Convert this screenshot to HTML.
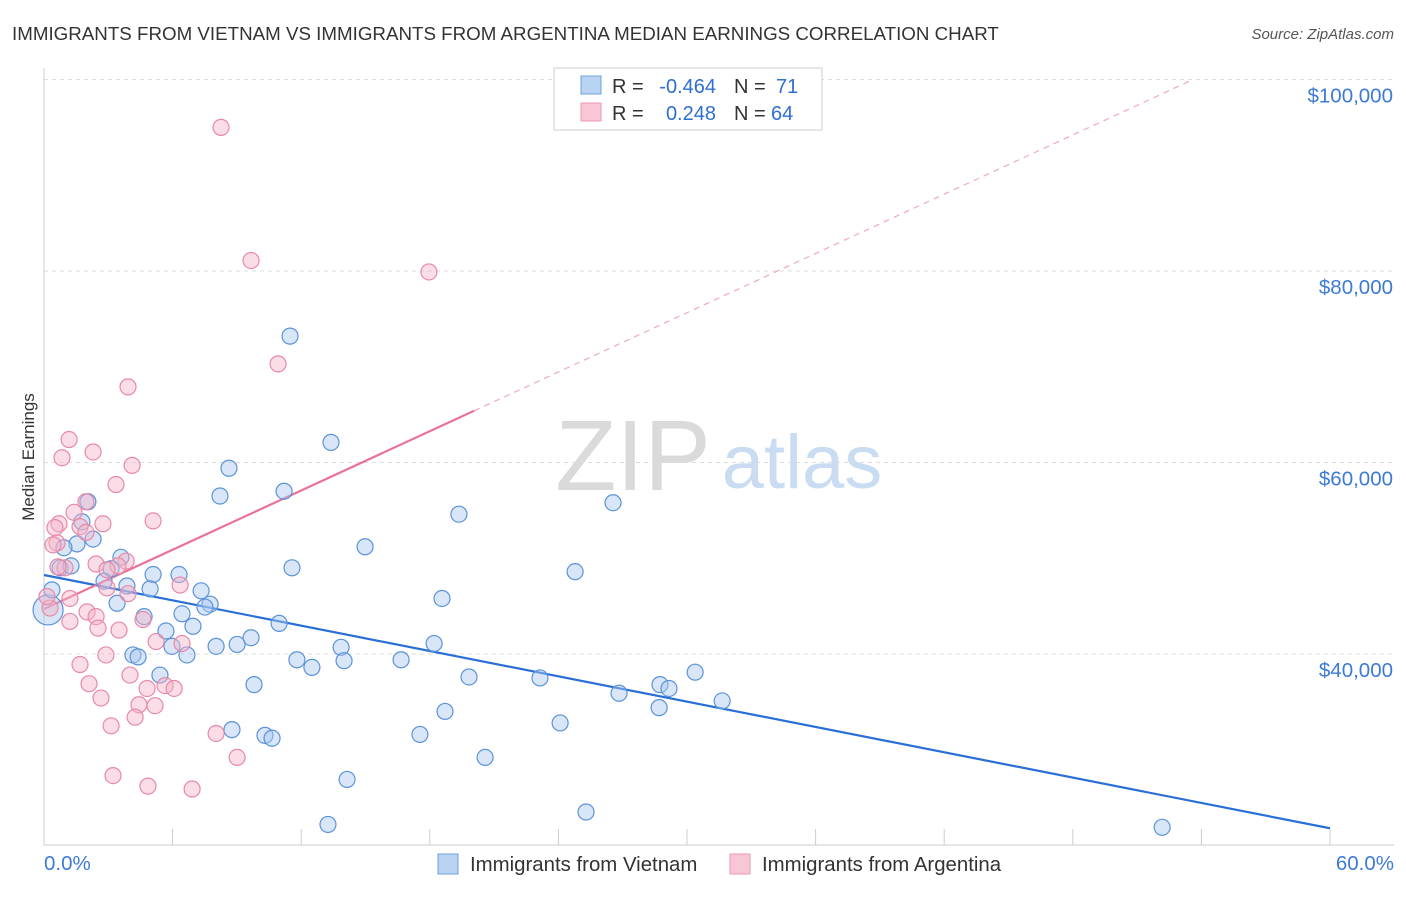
<!DOCTYPE html>
<html><head><meta charset="utf-8"><style>
body{margin:0;background:#fff;font-family:"Liberation Sans",sans-serif;}
svg text{font-family:"Liberation Sans",sans-serif;}
</style></head><body>
<svg id="chart" width="1406" height="892" xmlns="http://www.w3.org/2000/svg">
<text x="12" y="40" font-size="18.75" fill="#333">IMMIGRANTS FROM VIETNAM VS IMMIGRANTS FROM ARGENTINA MEDIAN EARNINGS CORRELATION CHART</text>
<text x="1394" y="39" font-size="15" fill="#555" text-anchor="end" font-style="italic">Source: ZipAtlas.com</text>
<text transform="translate(34,457) rotate(-90)" font-size="17" fill="#333" text-anchor="middle">Median Earnings</text>
<g>
<text x="633" y="490" font-size="100" fill="#dadada" text-anchor="middle" font-family="Liberation Serif">ZIP</text>
<text x="802" y="488" font-size="76" fill="#c9dcf2" text-anchor="middle">atlas</text>
</g>
<g id="grid"></g><g id="axes"></g><g id="lines"></g><g id="points"></g>
<g>
<rect x="554" y="68" width="268" height="62" fill="#fff" stroke="#ccc"/>
<rect x="581" y="76" width="20" height="18" fill="#b9d3f3" stroke="#6fa0de"/>
<rect x="581" y="103" width="20" height="18" fill="#f8c6d5" stroke="#ec9ab5"/>
<text x="612" y="93" font-size="20" fill="#333">R =</text>
<text x="716" y="93" font-size="20" fill="#2f6fd0" text-anchor="end">-0.464</text>
<text x="734" y="93" font-size="20" fill="#333">N =</text>
<text x="776" y="93" font-size="20" fill="#2f6fd0">71</text>
<text x="612" y="120" font-size="20" fill="#333">R =</text>
<text x="716" y="120" font-size="20" fill="#2f6fd0" text-anchor="end">0.248</text>
<text x="734" y="120" font-size="20" fill="#333">N =</text>
<text x="771" y="120" font-size="20" fill="#2f6fd0">64</text>
</g>
<g>
<rect x="438" y="854" width="20" height="20" fill="#b9d3f3" stroke="#6fa0de"/>
<text x="470" y="871" font-size="20.4" fill="#333">Immigrants from Vietnam</text>
<rect x="730" y="854" width="20" height="20" fill="#f8c6d5" stroke="#ec9ab5"/>
<text x="762" y="871" font-size="20.4" fill="#333">Immigrants from Argentina</text>
</g>
</svg>
<script>
const blueX=[11.48,13.39,8.63,8.21,11.2,2.05,19.36,26.55,1.77,14.98,2.29,1.54,0.93,3.59,11.57,24.78,0.75,1.26,3.13,5.09,6.3,2.8,3.87,4.95,7.33,18.57,3.41,7.75,7.51,6.44,4.67,10.97,6.95,5.69,9.66,9.01,8.03,5.97,18.2,13.86,6.67,4.15,4.39,11.8,14.0,12.5,16.66,19.83,23.14,5.41,30.38,28.74,29.16,26.83,9.8,31.64,28.7,18.71,24.08,8.77,17.54,10.31,10.64,20.58,14.14,25.29,13.25,52.17,0.19,0.37];
const blueY=[73.2,62.1,59.4,56.5,57.0,55.9,54.6,55.8,53.8,51.2,52.0,51.5,51.1,50.1,49.0,48.6,49.0,49.2,48.9,48.3,48.3,47.6,47.1,46.8,46.6,45.8,45.3,45.2,44.9,44.2,43.9,43.2,42.9,42.4,41.7,41.0,40.8,40.8,41.1,40.7,39.9,39.9,39.7,39.4,39.3,38.6,39.4,37.6,37.5,37.8,38.1,36.8,36.4,35.9,36.8,35.1,34.4,34.0,32.8,32.1,31.6,31.5,31.2,29.2,26.9,23.5,22.2,21.9,44.6,46.7];
const pinkX=[8.26,9.66,17.96,10.92,3.92,1.17,2.29,0.84,4.11,3.36,1.96,5.09,1.4,0.7,2.75,1.68,0.51,1.96,0.61,0.42,3.83,2.43,3.45,0.98,0.65,2.94,6.35,2.94,1.21,3.92,2.01,2.43,4.62,1.21,2.52,3.5,5.23,6.44,2.89,1.68,4.01,2.1,4.81,5.65,6.07,2.66,4.43,5.18,4.25,3.13,8.03,9.01,3.22,4.85,6.91,0.28,0.14];
const pinkY=[95.0,81.1,79.9,70.3,67.9,62.4,61.1,60.5,59.7,57.7,55.9,53.9,54.8,53.6,53.6,53.3,53.2,52.7,51.6,51.4,49.7,49.4,49.2,49.0,49.1,48.8,47.2,46.9,45.8,46.3,44.4,43.9,43.6,43.4,42.7,42.5,41.3,41.1,39.9,38.9,37.8,36.9,36.4,36.7,36.4,35.4,34.7,34.6,33.4,32.5,31.7,29.2,27.3,26.2,25.9,44.8,46.0];
const blueTrend=[48.25,21.8];      // y at x=0, x=60
const pinkTrend=[44.7,65.4,20.07]; // y at 0, y at solid end, solid end x
const yTicks=[40,60,80,100];
const yTickLabels=["$40,000","$60,000","$80,000","$100,000"];
const xTicks=[0,6,12,18,24,30,36,42,48,54,60];

const X0=44,X1=1330;
const sx=v=>X0+(v/60)*(X1-X0);
const sy=v=>654-(v-40)*191.5/20;
const NS="http://www.w3.org/2000/svg";
function mk(tag,attrs,parent){const e=document.createElementNS(NS,tag);for(const k in attrs)e.setAttribute(k,attrs[k]);parent.appendChild(e);return e;}
const grid=document.getElementById('grid'),axes=document.getElementById('axes'),lines=document.getElementById('lines'),pts=document.getElementById('points');
yTicks.forEach((t,i)=>{
  const l=mk('line',{x1:X0,x2:1394,y1:sy(t),y2:sy(t),stroke:'#ddd','stroke-dasharray':'4,4'},grid);
  
  
  const tx=mk('text',{x:1393,y:sy(t)+23,'font-size':20.5,fill:'#3d7bd6','text-anchor':'end'},axes);
  tx.textContent=yTickLabels[i];
  
  
});
const ax=mk('line',{x1:X0,x2:X0,y1:68,y2:845,stroke:'#ccc'},axes);


const bx=mk('line',{x1:X0,x2:1394,y1:845,y2:845,stroke:'#ccc'},axes);


xTicks.forEach(t=>{
  const l=mk('line',{x1:sx(t),x2:sx(t),y1:829,y2:845,stroke:'#ccc'},axes);
  
  
});
[[0,'0.0%','start',44],[60,'60.0%','end',1394]].forEach(d=>{
  const t=mk('text',{x:d[3],y:870,'font-size':20.5,fill:'#3d7bd6','text-anchor':d[2]},axes);
  t.textContent=d[1];
  
  
});
function dots(xs,ys,fill,stroke,name,bigIdx){
  xs.forEach((x,i)=>{
    const big=i===bigIdx;
    const c=mk('circle',{cx:sx(x),cy:sy(ys[i]),r:big?15:8,fill:fill,'fill-opacity':0.45,stroke:stroke,'stroke-width':1.2},pts);
    
    
  });
}
dots(blueX,blueY,'#a9c8f0','#5b93d9','vietnam-point',68);
dots(pinkX,pinkY,'#f4b4c8','#e889a8','argentina-point',-1);
const bl=mk('line',{x1:sx(0),y1:sy(blueTrend[0]),x2:sx(60),y2:sy(blueTrend[1]),stroke:'#2a6fd6','stroke-width':2.2},lines);


const slope=(pinkTrend[1]-pinkTrend[0])/pinkTrend[2];
const pl=mk('line',{x1:sx(0),y1:sy(pinkTrend[0]),x2:sx(pinkTrend[2]),y2:sy(pinkTrend[1]),stroke:'#e8739a','stroke-width':2.2},lines);


const xe=(100-pinkTrend[0])/slope;
const pd=mk('line',{x1:sx(pinkTrend[2]),y1:sy(pinkTrend[1]),x2:sx(xe),y2:sy(100),stroke:'#eeaabf','stroke-width':1.2,'stroke-dasharray':'6,5'},lines);


</script>
</body></html>
